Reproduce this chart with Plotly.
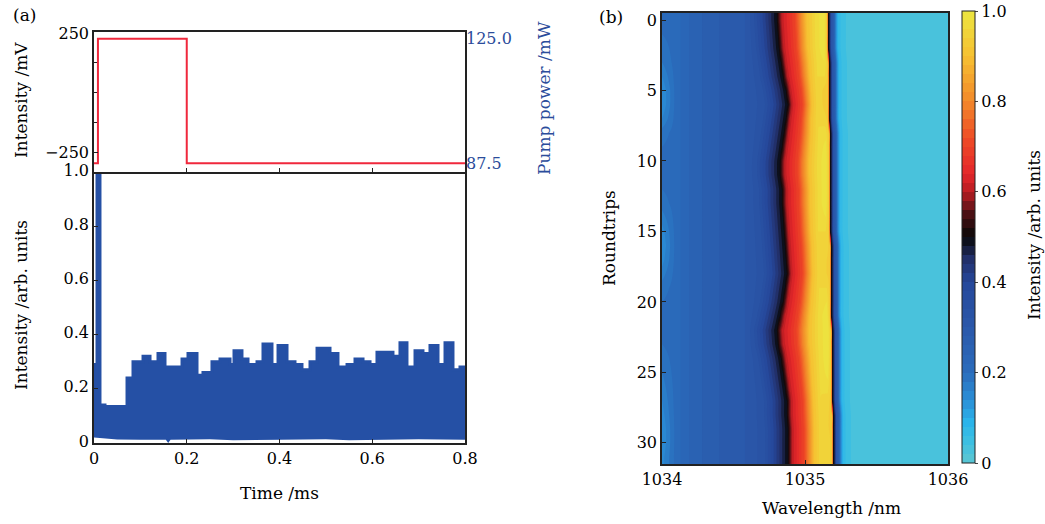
import numpy as np
import plotly.graph_objects as go

W, H = 1045, 524
FONT = "DejaVu Serif"
BLUE_TXT = "#2b4c9b"
PULSE_BLUE = "#2550a5"
RED = "#f0283c"
TICK = 16

# ---------------- (a) top: pump power step ----------------
pump_t = [0.0, 0.0085, 0.2, 0.8]
pump_mw = [87.5, 125.0, 87.5, 87.5]

# ---------------- (a) bottom: pulse-train envelope ----------------
env_t = [0.0, 0.0065, 0.0129, 0.0237, 0.0712, 0.0841, 0.1057, 0.1208, 0.1380,
         0.1531, 0.1898, 0.2027, 0.2221, 0.2350, 0.2544, 0.2717, 0.2933, 0.3019,
         0.3191, 0.3321, 0.3515, 0.3644, 0.3838, 0.3968, 0.4162, 0.4334, 0.4485,
         0.4658, 0.4809, 0.5089, 0.5261, 0.5456, 0.5628, 0.5801, 0.5952, 0.6102,
         0.6447, 0.6598, 0.6749, 0.6922, 0.7094, 0.7245, 0.7418, 0.7569, 0.7741,
         0.7892, 0.8]
env_v = [0.29, 1.05, 0.14, 0.135, 0.24, 0.30, 0.32, 0.30, 0.33,
         0.28, 0.31, 0.33, 0.25, 0.26, 0.30, 0.31, 0.29, 0.34,
         0.31, 0.29, 0.30, 0.365, 0.29, 0.36, 0.30, 0.29, 0.27,
         0.30, 0.35, 0.33, 0.28, 0.29, 0.31, 0.30, 0.29, 0.335,
         0.32, 0.37, 0.28, 0.34, 0.33, 0.36, 0.29, 0.37, 0.27,
         0.28, 0.28]
low_t = [0.0, 0.05, 0.10, 0.155, 0.16, 0.165, 0.25, 0.30, 0.40, 0.50, 0.55, 0.60, 0.70, 0.80]
low_v = [0.02, 0.013, 0.012, 0.012, 0.0, 0.012, 0.014, 0.010, 0.012, 0.014, 0.010, 0.012, 0.014, 0.012]

# ---------------- (b) spectral evolution ----------------
roundtrips = list(range(32))
# left (black, ~0.5) edge of the spectrum per roundtrip, in nm
left_edge_nm = [1034.804, 1034.811, 1034.818, 1034.832, 1034.846, 1034.867, 1034.881, 1034.867,
                1034.853, 1034.839, 1034.825, 1034.825, 1034.839, 1034.839, 1034.846, 1034.853,
                1034.860, 1034.867, 1034.874, 1034.860, 1034.846, 1034.825, 1034.804, 1034.811,
                1034.832, 1034.846, 1034.860, 1034.874, 1034.874, 1034.881, 1034.881, 1034.881]
# sharp right edge per roundtrip, in nm
right_edge_nm = [1035.161, 1035.161, 1035.161, 1035.168, 1035.168, 1035.168, 1035.168, 1035.168,
                 1035.175, 1035.175, 1035.175, 1035.175, 1035.175, 1035.175, 1035.175, 1035.175,
                 1035.182, 1035.182, 1035.182, 1035.182, 1035.182, 1035.182, 1035.189, 1035.189,
                 1035.189, 1035.189, 1035.189, 1035.189, 1035.196, 1035.196, 1035.196, 1035.196]
peak_level = [1.0, 1.0, 1.0, 0.98, 0.96, 0.93, 0.93, 0.95, 0.97, 0.99, 1.0, 1.0, 1.0, 1.0, 0.98, 0.96,
              0.95, 0.94, 0.94, 0.96, 0.98, 1.0, 1.0, 1.0, 1.0, 0.99, 0.97, 0.95, 0.94, 0.94, 0.95, 0.95]
far_left_level = [0.21, 0.2, 0.19, 0.18, 0.16, 0.14, 0.14, 0.16, 0.19, 0.2, 0.21, 0.21, 0.2, 0.19, 0.17,
                  0.15, 0.14, 0.15, 0.17, 0.19, 0.2, 0.21, 0.21, 0.2, 0.19, 0.18, 0.17, 0.16, 0.15, 0.14,
                  0.14, 0.15]
# fixed part of the spectrum on the short-wavelength side (nm, level)
short_side_nm = [1034.10, 1034.22, 1034.40, 1034.58]
short_side_lv = [0.21, 0.25, 0.28, 0.30]
# approach to the left edge (offset nm from edge, level)
rise_off = [-0.17, -0.12, -0.07, -0.03, 0.0]
rise_lv = [0.33, 0.38, 0.43, 0.47, 0.50]
# inside the band (fraction between edges, level)
band_frac = [0.05, 0.10, 0.22, 0.35, 0.47, 0.58, 0.74]
band_lv = [0.56, 0.61, 0.65, 0.70, 0.80, 0.90, 0.96]
# fall at the right edge (offset nm from edge, level)
fall_off = [-0.007, -0.003, 0.0, 0.014, 0.021, 0.040, 0.055, 0.070, 0.100, 0.175]
fall_lv = [0.93, 0.56, 0.51, 0.45, 0.33, 0.27, 0.15, 0.08, 0.045, 0.03]
long_side_nm = [1035.6, 1036.0]
long_side_lv = [0.025, 0.02]

wl_grid = np.linspace(1034.0, 1036.0, 1001)
Z = []
for r in roundtrips:
    L, R = left_edge_nm[r], right_edge_nm[r]
    kx = [1034.0] + short_side_nm + [L + o for o in rise_off] \
        + [L + f * (R - L) for f in band_frac] + [R - 0.03] + [R + o for o in fall_off] + long_side_nm
    kv = [far_left_level[r]] + short_side_lv + rise_lv + band_lv + [peak_level[r]] + fall_lv + long_side_lv
    Z.append(np.interp(wl_grid, kx, kv))
# cells extend half a roundtrip beyond the first and last rows
y_cells = [-0.5] + roundtrips + [31.5]
Z_cells = [Z[0]] + Z + [Z[-1]]

colorscale = [
    [0.00, "#5cc6d2"], [0.05, "#3cbfe2"], [0.09, "#2ab4ea"], [0.14, "#2a8fd6"],
    [0.20, "#2a6cbc"], [0.30, "#2a58aa"], [0.40, "#26479a"], [0.45, "#22306a"],
    [0.50, "#080808"], [0.55, "#4a1014"], [0.60, "#b81c22"], [0.64, "#e4262a"],
    [0.72, "#ee4c26"], [0.80, "#f28a2a"], [0.90, "#f6c032"], [1.00, "#ece640"],
]

fig = go.Figure()

# lower boundary of the pulse train
fig.add_trace(go.Scatter(x=low_t, y=low_v, mode="lines", line=dict(width=0, color=PULSE_BLUE),
                         xaxis="x", yaxis="y", showlegend=False, hoverinfo="skip"))
fig.add_trace(go.Scatter(x=env_t, y=env_v, mode="lines", line=dict(width=3, color=PULSE_BLUE, shape="hv"),
                         fill="tonexty", fillcolor=PULSE_BLUE, xaxis="x", yaxis="y", showlegend=False))

# base subplot for the top panel (mV axis)
fig.add_trace(go.Scatter(x=[None], y=[None], xaxis="x2", yaxis="y2", showlegend=False, hoverinfo="skip"))
fig.add_trace(go.Scatter(x=pump_t, y=pump_mw, mode="lines", line=dict(width=2, color=RED, shape="hv"),
                         xaxis="x2", yaxis="y3", showlegend=False))

fig.add_trace(go.Contour(
    x=wl_grid, y=y_cells, z=Z_cells, xaxis="x3", yaxis="y4",
    colorscale=colorscale, zmin=0, zmax=1, autocontour=False,
    contours=dict(start=0, end=1, size=0.02, coloring="fill", showlines=False),
    line=dict(width=0),
    colorbar=dict(
        x=962 / W, xanchor="left", y=1 - 237 / H, yanchor="middle", xpad=0, ypad=0,
        len=452 / H, lenmode="fraction", thickness=13,
        outlinewidth=1, outlinecolor="#222", ticklabeloverflow="allow",
        tickvals=[0, 0.2, 0.4, 0.6, 0.8, 1.0], ticktext=["0", "0.2", "0.4", "0.6", "0.8", "1.0"],
        ticks="outside", ticklen=3, tickfont=dict(family=FONT, size=TICK, color="black"),
    ),
))

axis_common = dict(showline=True, linecolor="#222", linewidth=1.5, ticks="inside",
                   tickcolor="#222", ticklen=4, showgrid=False, zeroline=False, automargin=False,
                   tickfont=dict(family=FONT, size=TICK, color="black"))

xl = [94 / W, 465 / W]
fig.update_layout(
    width=W, height=H, margin=dict(l=0, r=0, t=0, b=0, autoexpand=False),
    paper_bgcolor="white", plot_bgcolor="white",
    font=dict(family=FONT, size=17, color="black"),
    xaxis=dict(domain=xl, anchor="y", range=[0, 0.8], tickvals=[0, 0.2, 0.4, 0.6, 0.8],
               ticktext=["0", "0.2", "0.4", "0.6", "0.8"], mirror=False, **axis_common),
    yaxis=dict(domain=[1 - 443 / H, 1 - 172 / H], anchor="x", range=[0, 1.0], mirror=True,
               tickvals=[0, 0.2, 0.4, 0.6, 0.8, 1.0], ticktext=["0", "0.2", "0.4", "0.6", "0.8", "1.0"],
               ticklabelshift=-2, **axis_common),
    xaxis2=dict(domain=xl, anchor="y2", range=[0, 0.8], tickvals=[0.2, 0.4, 0.6], mirror=True,
                showticklabels=False, **axis_common),
    yaxis2=dict(domain=[1 - 172 / H, 1 - 32 / H], anchor="x2", range=[-330, 254], mirror=True,
                tickvals=[-250, 250], ticktext=["\u2212250", "250"],
                minor=dict(tickvals=[-125, 0, 125], ticks="inside", ticklen=3, tickcolor="#222"),
                **axis_common),
    yaxis3=dict(overlaying="y2", anchor="x2", side="right", range=[84.9, 127.0],
                tickvals=[87.5, 125.0], ticktext=["87.5", "125.0"], showline=False, ticks="",
                showgrid=False, zeroline=False, automargin=False,
                tickfont=dict(family=FONT, size=TICK, color=BLUE_TXT)),
    xaxis3=dict(domain=[662 / W, 948 / W], anchor="y4", range=[1034, 1036], mirror=True,
                tickvals=[1034, 1035, 1036], ticktext=["1034", "1035", "1036"], **axis_common),
    yaxis4=dict(domain=[1 - 464 / H, 1 - 13 / H], anchor="x3", range=[31.5, -0.5], mirror=True,
                tickvals=[0, 5, 10, 15, 20, 25, 30], **axis_common),
)

def label(text, x, y, angle=0, color="black", size=17):
    fig.add_annotation(text=text, x=x / W, y=1 - y / H, xref="paper", yref="paper",
                       showarrow=False, textangle=angle, xanchor="center", yanchor="middle",
                       font=dict(family=FONT, size=size, color=color))

label("(a)", 24, 15)
label("(b)", 611, 17)
label("Intensity /mV", 21, 100, -90)
label("Intensity /arb. units", 21, 305, -90)
label("Pump power /mW", 544, 98, -90, BLUE_TXT)
label("Time /ms", 279, 493)
label("Roundtrips", 609, 238, -90)
label("Wavelength /nm", 831, 508)
label("Intensity /arb. units", 1034, 235, -90)

fig.write_html("out.html", config={"displayModeBar": False},
               post_script="document.body.style.margin='0';")
